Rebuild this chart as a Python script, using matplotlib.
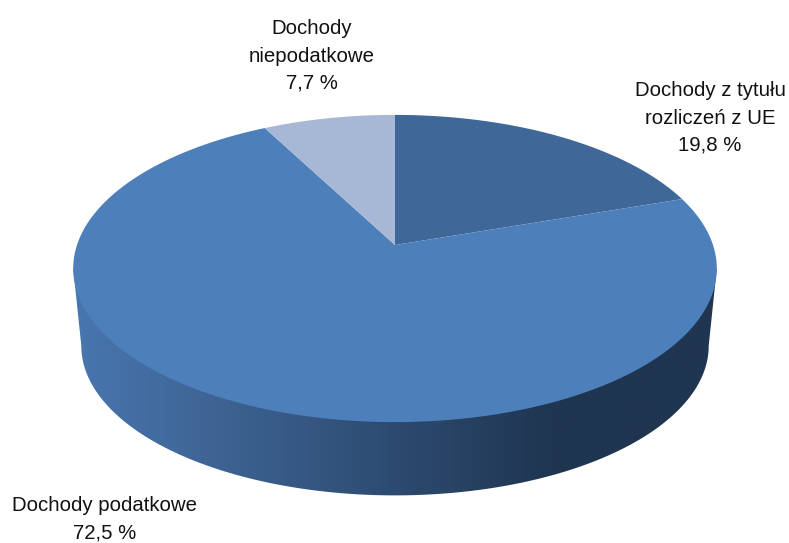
import numpy as np
import matplotlib
matplotlib.use('Agg')
import matplotlib.pyplot as plt
from matplotlib.colors import LinearSegmentedColormap
from matplotlib.patches import Polygon

labels = ['Dochody z tytułu\nrozliczeń z UE\n19,8 %', 'Dochody podatkowe\n72,5 %', 'Dochody\nniepodatkowe\n7,7 %']
values = [19.8, 72.5, 7.7]
colors = ['#3f6898', '#4d7fbb', '#a7b7d6']
label_xy = [(710, 118), (105, 519), (312, 56)]

# Perspective projection of the unit disc to pixel coordinates
cx = 395
k = 0.153


def project(t, r=1.0, cy=245, a=318, b=150):
    u = r * np.sin(t)
    v = r * np.cos(t)
    d = 1 + k * v
    return cx + a * u / d, cy - b * v / d


fig = plt.figure(figsize=(7.89, 5.43), dpi=100)
ax = fig.add_axes([0, 0, 1, 1])

# Side wall: gradient clipped to the shape between the top and bottom discs
t = np.linspace(0, 2 * np.pi, 1441)
top_x, top_y = project(t)
bot_x, bot_y = project(t, cy=323, a=310, b=146)
i_r = np.argmax(top_x)
i_l = np.argmin(top_x)
j_r = np.argmax(bot_x)
j_l = np.argmin(bot_x)
wall_x = np.r_[top_x[i_r], bot_x[j_r:j_l + 1], top_x[i_l]]
wall_y = np.r_[top_y[i_r], bot_y[j_r:j_l + 1], top_y[i_l]]

side_cmap = LinearSegmentedColormap.from_list('side', [
    (0.0, '#4876b0'), (0.16, '#41699b'), (0.5, '#2d4b70'), (0.75, '#1f3550'), (1.0, '#1f3550')])
grad = ax.imshow(np.linspace(0, 1, 640).reshape(1, -1), cmap=side_cmap, aspect='auto',
                 extent=[73, 717, 500, 250], zorder=1)
clip = Polygon(np.c_[wall_x, wall_y], closed=True, transform=ax.transData)
grad.set_clip_path(clip)

# Top face
start = 0.0
for val, col in zip(values, colors):
    end = start + val / sum(values) * 2 * np.pi
    arc = np.linspace(start, end, 400)
    x, y = project(arc)
    ax.fill(np.r_[cx, x], np.r_[245, y], color=col, lw=0, zorder=2)
    start = end

for lab, (lx, ly) in zip(labels, label_xy):
    ax.text(lx, ly, lab, ha='center', va='center', ma='center', fontsize=14.7,
            family='Liberation Sans', color='#111111', linespacing=1.54, zorder=3)

ax.set_xlim(0, 789)
ax.set_ylim(543, 0)
ax.axis('off')
fig.savefig('out.png', dpi=100)
